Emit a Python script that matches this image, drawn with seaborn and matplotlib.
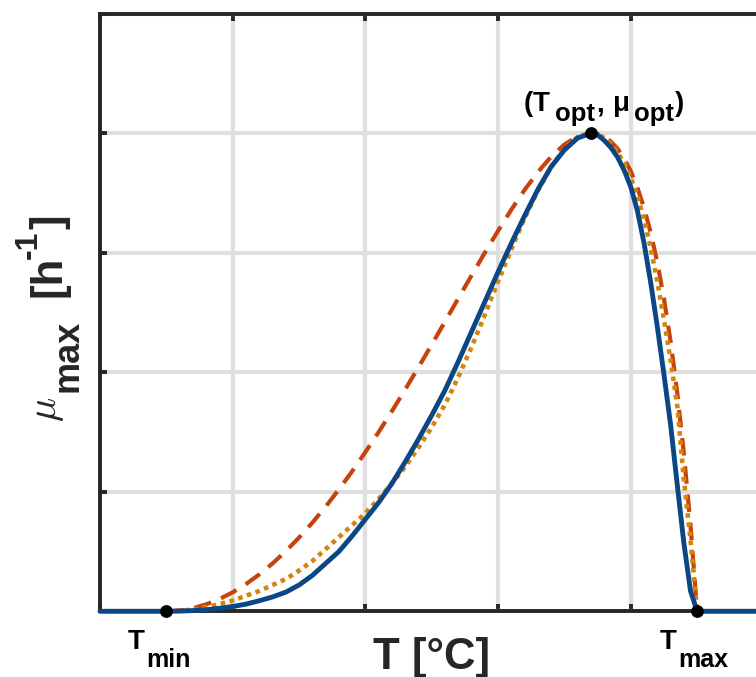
import matplotlib
matplotlib.use("Agg")
import matplotlib.pyplot as plt
import seaborn as sns

# ---- cardinal temperatures and rates ----
T_MIN, T_OPT, T_MAX = 5, 37, 45
MU_OPT = 4.0

# temperature samples: rising limb (1 degree steps), falling limb (0.5 degree steps)
T_up = [5, 6, 7, 8, 9, 10, 11, 12, 13, 14, 15, 16, 17, 18, 19, 20, 21,
        22, 23, 24, 25, 26, 27, 28, 29, 30, 31, 32, 33, 34, 35, 36, 37]
T_down = [37.5, 38, 38.5, 39, 39.5, 40, 40.5, 41, 41.5, 42, 42.5, 43,
          43.5, 44, 44.5, 45]

# model 1 (solid blue)
mu_solid_up = [0, 0.002, 0.006, 0.013, 0.025, 0.04, 0.06, 0.088, 0.12, 0.16,
               0.22, 0.30, 0.40, 0.50, 0.63, 0.77, 0.91, 1.07, 1.25, 1.44,
               1.64, 1.85, 2.09, 2.34, 2.59, 2.84, 3.08, 3.31, 3.53, 3.72,
               3.86, 3.96, 4.0]
mu_solid_down = [3.985, 3.94, 3.88, 3.80, 3.69, 3.55, 3.35, 3.08, 2.75, 2.38,
                 1.98, 1.56, 1.06, 0.57, 0.17, 0]

# model 2 (dashed red)
mu_dash_up = [0, 0.0065, 0.026, 0.058, 0.102, 0.159, 0.228, 0.308, 0.400,
              0.503, 0.617, 0.741, 0.875, 1.019, 1.171, 1.332, 1.500, 1.675,
              1.856, 2.042, 2.232, 2.424, 2.618, 2.810, 3.000, 3.184, 3.361,
              3.526, 3.675, 3.804, 3.906, 3.975, 4.0]
mu_dash_down = [3.993, 3.970, 3.930, 3.871, 3.788, 3.681, 3.544, 3.375, 3.168,
                2.917, 2.616, 2.256, 1.829, 1.320, 0.717, 0]

# model 3 (dotted orange)
mu_dot_up = [0, 0.004, 0.015, 0.035, 0.06, 0.09, 0.13, 0.17, 0.22, 0.27, 0.34,
             0.42, 0.52, 0.62, 0.72, 0.82, 0.94, 1.07, 1.21, 1.37, 1.54, 1.73,
             1.96, 2.21, 2.48, 2.76, 3.03, 3.29, 3.52, 3.72, 3.87, 3.97, 4.0]
mu_dot_down = [3.99, 3.96, 3.91, 3.84, 3.75, 3.63, 3.47, 3.28, 3.04, 2.76,
               2.44, 2.10, 1.72, 1.10, 0.60, 0]

# no growth outside [T_min, T_max]
T_outside_lo, T_outside_hi = 0, 50

BLUE = "#0A4784"
RED = "#C8430C"
ORANGE = "#D4850C"
INK = "#262626"

sns.set_style("white")
plt.rcParams["font.family"] = ["Liberation Sans", "DejaVu Sans"]

W, H = 756, 677
fig = plt.figure(figsize=(W / 100, H / 100), dpi=100)
ax = fig.add_axes([100 / W, (H - 611.3) / H, 663.5 / W, 597.6 / H])

T_all = T_up + T_down
sns.lineplot(x=T_all, y=mu_dash_up + mu_dash_down, ax=ax, color=RED, lw=3.0,
             linestyle=(0, (4.2, 2.6)), estimator=None, zorder=3, clip_on=False)
sns.lineplot(x=T_all, y=mu_dot_up + mu_dot_down, ax=ax, color=ORANGE, lw=3.3,
             linestyle=(0, (1, 1)), estimator=None, zorder=3.2, clip_on=False)
sns.lineplot(x=[T_outside_lo] + T_all + [T_outside_hi],
             y=[0] + mu_solid_up + mu_solid_down + [0], ax=ax, color=BLUE,
             lw=3.5, estimator=None, zorder=3.4, clip_on=False)

sns.scatterplot(x=[T_MIN, T_OPT, T_MAX], y=[0, MU_OPT, 0], ax=ax,
                color="black", s=85, linewidth=0, zorder=6, clip_on=False)

ax.set_xlim(0, 50)
ax.set_ylim(0, 5)
ax.set_xticks([0, 10, 20, 30, 40, 50])
ax.set_yticks([0, 1, 2, 3, 4, 5])
ax.set_xlabel("")
ax.set_ylabel("")
ax.grid(True, color="#DFDFDF", lw=3)
ax.set_axisbelow(True)
ax.tick_params(labelbottom=False, labelleft=False, direction="in", length=5,
               width=2.8, color=INK, top=True, right=True, bottom=True, left=True)
for sp in ax.spines.values():
    sp.set_visible(True)
    sp.set_linewidth(2.8)
    sp.set_color(INK)


def put(s, x, y, size, **kw):
    """Place a text piece with its left/baseline at pixel (x, y) from top-left."""
    kw.setdefault("fontweight", "bold")
    kw.setdefault("color", "black")
    fig.text(x / W, 1 - y / H, s, fontsize=size, ha="left", va="baseline", **kw)


# cardinal point labels
put("(", 524, 111, 20)
put("T", 533, 111, 20)
put("opt", 555, 121, 18.5)
put(",", 596, 111, 20)
put("\u03bc", 613, 111, 20)
put("opt", 634, 121, 18.5)
put(")", 675, 111, 20)

put("T", 128, 649, 20)
put("min", 146, 667, 18)
put("T", 660, 649, 20)
put("max", 678, 667, 18)

# x axis label
fig.text(432 / W, 1 - 669 / H, "T [\u00b0C]", fontsize=31.5, fontweight="bold",
         color=INK, ha="center", va="baseline")

# y axis label, built from rotated pieces
rot = dict(rotation=90, rotation_mode="anchor", color=INK)
put(r"$\mu$", 56, 422, 29, math_fontfamily="cm", fontweight="normal", **rot)
put("max", 77, 392, 26, **rot)
put("[h", 61, 297, 31.5, **rot)
put("-1", 37, 259, 23, **rot)
put("]", 61, 229, 31.5, **rot)

fig.savefig("out.png", dpi=100)
